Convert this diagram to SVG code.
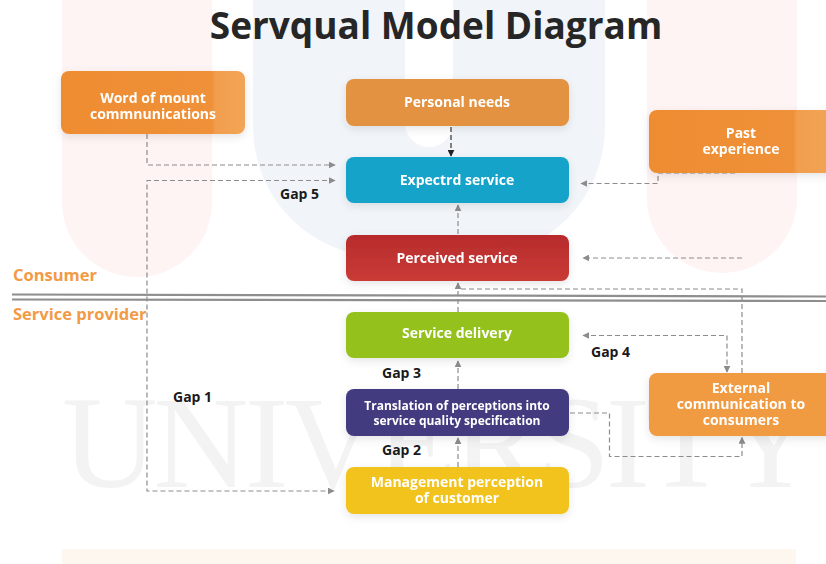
<svg xmlns="http://www.w3.org/2000/svg" width="826" height="564" viewBox="0 0 826 564">
  <style>
    .box-text { font-family: "Open Sans", "Liberation Sans", sans-serif; font-weight: 700; fill: #ffffff; text-anchor: middle; }
    .gap { font-family: "Open Sans", "Liberation Sans", sans-serif; font-weight: 700; font-size: 14px; fill: #1a1a1a; }
    .side { font-family: "Open Sans", "Liberation Sans", sans-serif; font-weight: 700; font-size: 16.5px; fill: #f29a45; }
    .link { fill: none; stroke: #8c8c8c; stroke-width: 1.2; stroke-dasharray: 5 3; }
    .link-dark { fill: none; stroke: #222222; stroke-width: 1.1; stroke-dasharray: 5 3; }
    .rule { stroke: #8e8e8e; stroke-width: 2.2; }
  </style>
  <defs>
    <marker id="arrow" viewBox="0 0 10 10" refX="9" refY="5" markerWidth="7" markerHeight="7" markerUnits="userSpaceOnUse" orient="auto-start-reverse">
      <path d="M0,0 L10,5 L0,10 z" fill="#8c8c8c"/>
    </marker>
    <marker id="arrow-dark" viewBox="0 0 10 10" refX="9" refY="5" markerWidth="7" markerHeight="7" markerUnits="userSpaceOnUse" orient="auto">
      <path d="M0,0 L10,5 L0,10 z" fill="#222222"/>
    </marker>
    <filter id="shadow" x="-20%" y="-30%" width="140%" height="170%">
      <feDropShadow dx="0" dy="3" stdDeviation="4" flood-color="#000000" flood-opacity="0.10"/>
    </filter>
    <linearGradient id="g-word" x1="0" y1="0" x2="1" y2="0">
      <stop offset="0" stop-color="#ee8c32"/>
      <stop offset="0.82" stop-color="#ef9138"/>
      <stop offset="0.84" stop-color="#f19f4f"/>
      <stop offset="1" stop-color="#f2a455"/>
    </linearGradient>
    <linearGradient id="g-past" x1="0" y1="0" x2="1" y2="0">
      <stop offset="0" stop-color="#ee8c32"/>
      <stop offset="0.76" stop-color="#ef9138"/>
      <stop offset="0.78" stop-color="#f19f4f"/>
      <stop offset="1" stop-color="#f2a455"/>
    </linearGradient>
    <linearGradient id="g-red" x1="0" y1="0" x2="0" y2="1">
      <stop offset="0" stop-color="#b72b2c"/>
      <stop offset="1" stop-color="#ca3b36"/>
    </linearGradient>
  </defs>

  <!-- faint background emblem -->
  <g id="background">
    <rect x="0" y="0" width="826" height="564" fill="#ffffff"/>
    <rect x="62" y="-120" width="150" height="397" rx="75" fill="#fef4f3"/>
    <rect x="647" y="-120" width="150" height="393" rx="75" fill="#fef4f3"/>
    <rect x="253" y="-140" width="352" height="397" rx="130" fill="#f1f5f9"/>
    <rect x="405" y="-60" width="48" height="207" rx="24" fill="#ffffff"/>
    <text x="62" y="487" font-family="Liberation Serif, serif" font-size="132" textLength="756" lengthAdjust="spacing" fill="#f3f3f3">UNIVERSITY</text>
    <rect x="62" y="549" width="734" height="15" fill="#fef7f0"/>
  </g>

  <!-- title -->
  <text x="436" y="39" font-family="Open Sans, Liberation Sans, sans-serif" font-weight="700" font-size="37" fill="#262626" text-anchor="middle">Servqual Model Diagram</text>

  <!-- consumer / provider boundary -->
  <g id="boundary">
    <line class="rule" x1="12" y1="294.5" x2="826" y2="296.5"/>
    <line class="rule" x1="12" y1="299.5" x2="826" y2="301"/>
    <text class="side" x="13" y="281">Consumer</text>
    <text class="side" x="13" y="320">Service provider</text>
  </g>

  <!-- connectors -->
  <g id="connectors">
    <path class="link" d="M147,134 V165 H335" marker-end="url(#arrow)"/>
    <path class="link" d="M335,180.5 H147 V491 H334" marker-start="url(#arrow)" marker-end="url(#arrow)"/>
    <path class="link-dark" d="M451,127 V156" marker-end="url(#arrow-dark)"/>
    <path class="link" d="M735,173 H658 V183.5 H581" marker-end="url(#arrow)"/>
    <path class="link" d="M742,258 H583" marker-end="url(#arrow)"/>
    <path class="link" d="M742,373 V289 H458"/>
    <path class="link" d="M458,312 V283" marker-end="url(#arrow)"/>
    <path class="link" d="M458,234 V205" marker-end="url(#arrow)"/>
    <path class="link" d="M583,335.5 H727 V372" marker-start="url(#arrow)" marker-end="url(#arrow)"/>
    <path class="link" d="M570,413 H609.5 V456.5 H742 V437.5" marker-end="url(#arrow)"/>
    <path class="link" d="M458,389 V361" marker-end="url(#arrow)"/>
    <path class="link" d="M458,467 V438" marker-end="url(#arrow)"/>
  </g>

  <!-- gap labels -->
  <g id="gap-labels">
    <text class="gap" x="280" y="199">Gap 5</text>
    <text class="gap" x="173" y="402">Gap 1</text>
    <text class="gap" x="382" y="378">Gap 3</text>
    <text class="gap" x="382" y="455">Gap 2</text>
    <text class="gap" x="591" y="357">Gap 4</text>
  </g>

  <!-- nodes -->
  <g id="word-of-mouth" filter="url(#shadow)">
    <rect x="61" y="71" width="184" height="63" rx="8" fill="url(#g-word)"/>
    <text class="box-text" font-size="14" x="153" y="103">Word of mount</text>
    <text class="box-text" font-size="14" x="153" y="119">commnunications</text>
  </g>

  <g id="personal-needs" filter="url(#shadow)">
    <rect x="346" y="79" width="223" height="47" rx="8" fill="#e29240"/>
    <text class="box-text" font-size="14" x="457" y="107">Personal needs</text>
  </g>

  <g id="past-experience" filter="url(#shadow)">
    <rect x="649" y="110" width="190" height="63" rx="8" fill="url(#g-past)"/>
    <text class="box-text" font-size="14" x="741" y="138">Past</text>
    <text class="box-text" font-size="14" x="741" y="154">experience</text>
  </g>

  <g id="expected-service" filter="url(#shadow)">
    <rect x="346" y="157" width="223" height="46" rx="8" fill="#15a3ca"/>
    <text class="box-text" font-size="14" x="457" y="185">Expectrd service</text>
  </g>

  <g id="perceived-service" filter="url(#shadow)">
    <rect x="346" y="235" width="223" height="46" rx="8" fill="url(#g-red)"/>
    <text class="box-text" font-size="14" x="457" y="263">Perceived service</text>
  </g>

  <g id="service-delivery" filter="url(#shadow)">
    <rect x="346" y="312" width="223" height="46" rx="8" fill="#94c11f"/>
    <text class="box-text" font-size="14" x="457" y="338">Service delivery</text>
  </g>

  <g id="translation" filter="url(#shadow)">
    <rect x="346" y="389" width="223" height="47" rx="8" fill="#433a80"/>
    <text class="box-text" font-size="12" x="457" y="410">Translation of perceptions into</text>
    <text class="box-text" font-size="12" x="457" y="424.5">service quality specification</text>
  </g>

  <g id="management-perception" filter="url(#shadow)">
    <rect x="346" y="467" width="223" height="47" rx="8" fill="#f2c31d"/>
    <text class="box-text" font-size="14" x="457" y="486.5">Management perception</text>
    <text class="box-text" font-size="14" x="457" y="502.5">of customer</text>
  </g>

  <g id="external-communication" filter="url(#shadow)">
    <rect x="649" y="373" width="190" height="63" rx="8" fill="#f09a42"/>
    <text class="box-text" font-size="14" x="741" y="393">External</text>
    <text class="box-text" font-size="14" x="741" y="409">communication to</text>
    <text class="box-text" font-size="14" x="741" y="425">consumers</text>
  </g>
</svg>
